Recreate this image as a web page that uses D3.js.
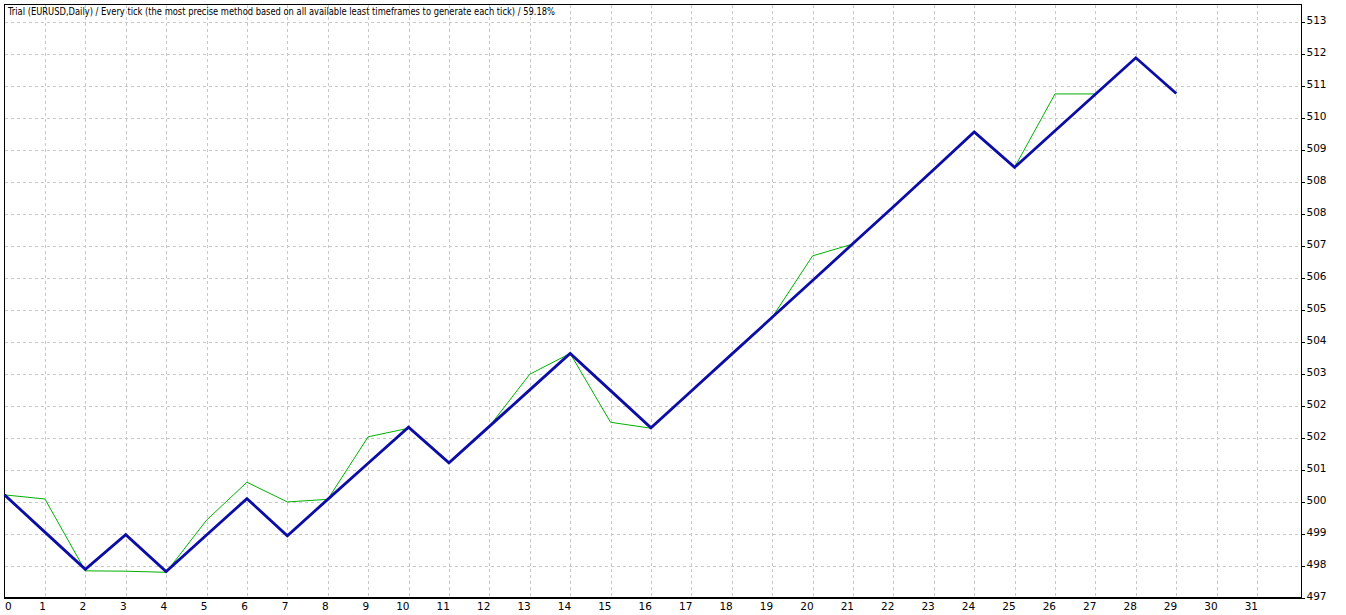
<!DOCTYPE html>
<html>
<head>
<meta charset="utf-8">
<script src="https://cdn.jsdelivr.net/npm/d3@7"></script>
<style>
  body { margin: 0; background: #fff; }
  svg text { font-family: "DejaVu Sans", "Liberation Sans", sans-serif; fill: #000; }
</style>
</head>
<body>
<div id="chart"></div>
<script>
// trade numbers along the bottom
const tradeNo = d3.range(0, 30);
// balance after each trade (blue)
const balance = [500.02, 499.02, 498.02, 498.95, 497.96, 498.94, 499.92, 498.92, 499.90, 500.87,
                 501.84, 500.88, 501.86, 502.84, 503.82, 502.82, 501.82, 502.81, 503.80, 504.79,
                 505.78, 506.77, 507.76, 508.76, 509.77, 508.82, 509.80, 510.78, 511.76, 510.80];
// equity (green)
const equity = [500.02, 499.91, 497.98, 497.97, 497.94, 499.34, 500.36, 499.83, 499.90, 501.58,
                501.81, 500.88, 501.86, 503.26, 503.82, 501.97, 501.81, 502.81, 503.80, 504.79,
                506.44, 506.76, 507.76, 508.76, 509.77, 508.82, 510.79, 510.79, 511.76, 510.80];
// grid values on the right axis and what MT4 printed for them
const yTickValues = [497.25, 498.11, 498.97, 499.83, 500.69, 501.55, 502.41, 503.27, 504.13, 504.99,
                     505.85, 506.71, 507.57, 508.43, 509.29, 510.15, 511.01, 511.87, 512.73];
const yTickLabels = ["497", "498", "499", "500", "501", "502", "502", "503", "504", "505",
                     "506", "507", "508", "508", "509", "510", "511", "512", "513"];
const xTickValues = d3.range(0, 32);
const title = "Trial (EURUSD,Daily) / Every tick (the most precise method based on all available least timeframes to generate each tick) / 59.18%";

const W = 1346, H = 615;
const plotL = 4.5, plotR = 1301.5, plotT = 4.5, plotB = 598;

const svg = d3.select("#chart").append("svg")
  .attr("width", W).attr("height", H);

const x = d3.scaleLinear().domain([0, 32.1]).range([plotL, plotR]);
const y = d3.scaleLinear().domain([497.25, 512.73]).range([plotB, 21.7]);

// dashed grid
const grid = svg.append("g")
  .attr("stroke", "#c8c8c8")
  .attr("stroke-dasharray", "3,3")
  .attr("shape-rendering", "crispEdges");

grid.selectAll(".gx")
  .data(xTickValues.filter(d => d > 0))
  .enter().append("line")
  .attr("x1", d => Math.round(x(d)) + 0.5).attr("x2", d => Math.round(x(d)) + 0.5)
  .attr("y1", plotT).attr("y2", plotB);

grid.selectAll(".gy")
  .data(yTickValues.slice(1))
  .enter().append("line")
  .attr("y1", d => Math.round(y(d)) + 0.5).attr("y2", d => Math.round(y(d)) + 0.5)
  .attr("x1", plotL).attr("x2", plotR);

// frame
svg.append("rect")
  .attr("x", plotL).attr("y", plotT)
  .attr("width", plotR - plotL).attr("height", plotB - plotT)
  .attr("fill", "none").attr("stroke", "#000").attr("stroke-width", 1.2)
  .attr("shape-rendering", "crispEdges");

// right axis
const yAxis = svg.append("g");
yAxis.selectAll("line")
  .data(yTickValues)
  .enter().append("line")
  .attr("x1", plotR).attr("x2", plotR + 3)
  .attr("y1", d => Math.round(y(d)) + 0.5).attr("y2", d => Math.round(y(d)) + 0.5)
  .attr("stroke", "#000").attr("shape-rendering", "crispEdges");
yAxis.selectAll("text")
  .data(yTickValues)
  .enter().append("text")
  .attr("x", plotR + 5)
  .attr("y", d => y(d) + 2)
  .attr("font-size", 10.5)
  .text((d, i) => yTickLabels[i]);

// bottom axis labels
svg.append("g").selectAll("text")
  .data(xTickValues)
  .enter().append("text")
  .attr("x", d => d === 0 ? x(d) + 0.5 : x(d) + 1)
  .attr("y", 609.5)
  .attr("text-anchor", d => d === 0 ? "start" : "end")
  .attr("font-size", 10.5)
  .text(d => d);

// title
svg.append("text")
  .attr("x", 8).attr("y", 15)
  .attr("font-size", 11)
  .attr("textLength", 547)
  .attr("lengthAdjust", "spacingAndGlyphs")
  .text(title);

const line = d3.line()
  .x((d, i) => x(tradeNo[i]))
  .y(d => y(d));

svg.append("path")
  .datum(equity)
  .attr("d", line)
  .attr("fill", "none")
  .attr("stroke", "#00b000")
  .attr("stroke-width", 1);

svg.append("path")
  .datum(balance)
  .attr("d", line)
  .attr("fill", "none")
  .attr("stroke", "#0c0ca6")
  .attr("stroke-width", 2.8)
  .attr("stroke-linejoin", "miter");
</script>
</body>
</html>
